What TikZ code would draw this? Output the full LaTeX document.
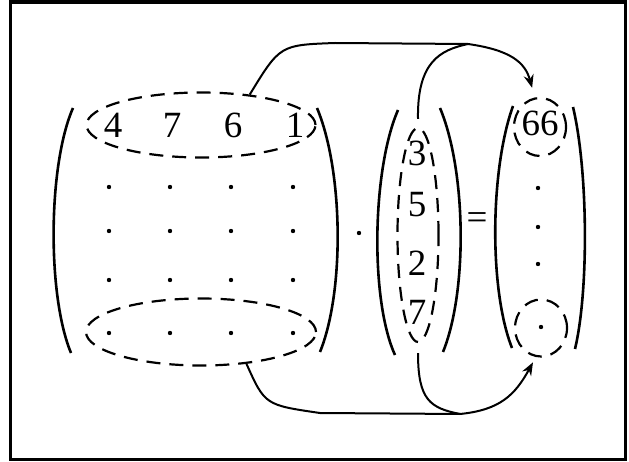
\documentclass[tikz,border=0pt]{standalone}
\usepackage{fontspec}
\setmainfont{Liberation Serif}
\usetikzlibrary{arrows.meta,shapes.geometric,positioning}

\tikzset{
  entry/.style={inner sep=0pt,font=\fontsize{37}{42}\selectfont},
  elldot/.style={circle,fill,inner sep=0pt,minimum size=4.4pt},
  group/.style={draw,ellipse,line width=2.2pt,dash pattern=on 14pt off 9pt},
  delim/.style={line width=2.6pt},
  flow/.style={line width=2pt},
  tip/.style={-{Stealth[length=13pt,width=10pt]}},
}

\begin{document}
\begin{tikzpicture}[x=1pt,y=-1pt]
\useasboundingbox (0,0) rectangle (629,462);
\draw[line width=3.5pt] (10.5,2) rectangle (625.5,459.5);

% matrix
\draw[delim] (73,108) .. controls (48,165) and (47,295) .. (71,353);
\draw[delim] (317,108) .. controls (343,170) and (345,290) .. (320,352);
\foreach \v/\x [count=\i] in {4/113,7/172,6/233,1/295}
  \node[entry] (a1-\i) at (\x,125) {\v};
\foreach \y [count=\j from 2] in {187,231,280,333}
  \foreach \x [count=\i] in {109,170,231,293}
    \node[elldot] (a\j-\i) at (\x,\y) {};
\node[group,minimum width=229pt,minimum height=65pt] (rowtop) at (201,125) {};
\node[group,minimum width=230pt,minimum height=67pt] (rowbot) at (201,332) {};

\node[elldot] (times) at (359,233) {};

% vector
\draw[delim] (398,110) .. controls (372,170) and (370,300) .. (395,355);
\draw[delim] (440,108) .. controls (466,170) and (468,290) .. (443,352);
\foreach \v/\y [count=\i] in {3/153,5/205,2/263,7/312}
  \node[entry] (b\i) at (417,\y) {\v};
\node[group,minimum width=41pt,minimum height=214pt] (col) at (418,235) {};

\node[entry] (eq) at (477,221) {=};

% result
\draw[delim] (513,106) .. controls (490,170) and (489,290) .. (512,348);
\draw[delim] (573,107) .. controls (588,170) and (589,290) .. (575,349);
\node[entry] (c1) at (540,123) {66};
\foreach \x/\y [count=\i from 2] in {538/188,538/227,538/264,541/327}
  \node[elldot] (c\i) at (\x,\y) {};
\node[group,minimum width=52pt,minimum height=58pt] (hit1) at (540,127) {};
\node[group,minimum width=52pt,minimum height=57pt] (hit2) at (541,328) {};

% connectors
\coordinate (jtop) at (468,44);
\coordinate (jbot) at (460,414);
\draw[flow] (rowtop.32) .. controls (280,45) .. (335,43) -- (jtop);
\draw[flow] ([yshift=8pt]col.north) .. controls (417,62) and (440,50) .. (jtop);
\draw[flow,tip,shorten >=10pt] (jtop) .. controls (510,50) and (525,62) .. (hit1.100);
\draw[flow] (rowbot.-35) .. controls (265,405) .. (320,413) -- (jbot);
\draw[flow] ([yshift=-10pt]col.south) .. controls (418,400) and (430,408) .. (jbot);
\draw[flow,tip,shorten >=6pt] (jbot) .. controls (500,410) and (515,395) .. (hit2.-100);
\end{tikzpicture}
\end{document}
